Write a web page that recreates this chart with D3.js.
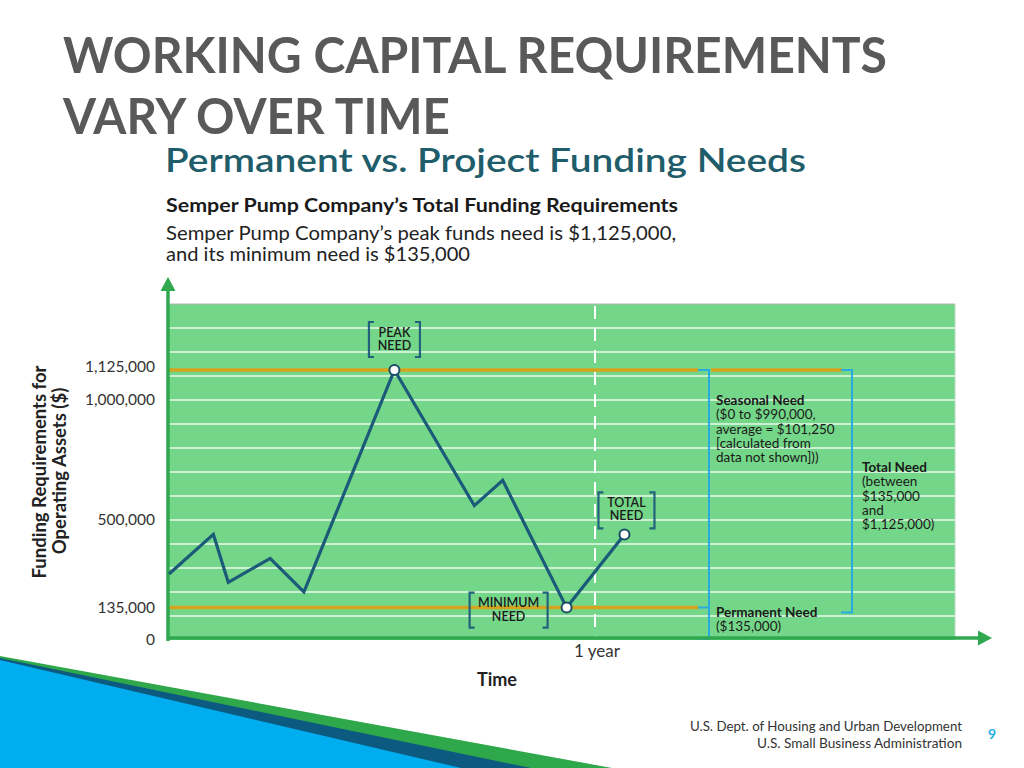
<!DOCTYPE html>
<html><head><meta charset="utf-8">
<script src="https://cdn.jsdelivr.net/npm/d3@7"></script>
<style>body{margin:0;background:#fff;} svg{display:block;}</style>
</head><body>
<svg id="c" width="1024" height="768"></svg>
<script>
// ---------- data ----------
const months = [0, 1.25, 1.67, 2.85, 3.8, 6.35, 8.6, 9.4, 11.2, 12.83];
const needs  = [275000, 440000, 240000, 340000, 200000, 1125000, 560000, 665000, 135000, 440000];
const yTickValues = [0, 135000, 500000, 1000000, 1125000];
const gridValues = [100000, 200000, 300000, 400000, 500000, 600000, 700000, 800000, 900000, 1000000, 1100000, 1200000, 1300000];
const peakNeed = 1125000;
const minNeed = 135000;
const yearMonth = 12;
const xTickLabel = "1 year";
const seasonalTitle = "Seasonal Need";
const seasonalLines = ["($0 to $990,000,", "average = $101,250", "[calculated from", "data not shown]))"];
const totalTitle = "Total Need";
const totalLines = ["(between", "$135,000", "and", "$1,125,000)"];
const permanentTitle = "Permanent Need";
const permanentLines = ["($135,000)"];
const callouts = [
  {index: 5, lines: ["PEAK", "NEED"]},
  {index: 8, lines: ["MINIMUM", "NEED"]},
  {index: 9, lines: ["TOTAL", "NEED"]}
];

// ---------- layout ----------
const svg = d3.select("#c");
const F = "Lato, 'Open Sans', sans-serif";
const plotL = 169, plotR = 955;
const x = d3.scaleLinear().domain([0, 12]).range([169, 595]);
const y = d3.scaleLinear().domain([0, 1400000]).range([640, 304]);
const axisGreen = "#2fa84f";
const orange = "#d6a41c";
const bracketBlue = "#29abe2";
const calloutColor = "#22627d";
const lineColor = "#1b5a78";

// bottom-left decoration
svg.append("polygon").attr("points", "0,656 612,768 0,768").attr("fill", "#2ea84a");
svg.append("polygon").attr("points", "0,658 531,768 0,768").attr("fill", "#0d5a80");
svg.append("polygon").attr("points", "0,660 461,768 0,768").attr("fill", "#00aeef");

// ---------- headers ----------
function fitText(sel, w) { sel.attr("textLength", w).attr("lengthAdjust", "spacingAndGlyphs"); return sel; }
fitText(svg.append("text").attr("x", 63).attr("y", 73).attr("font-family", F).attr("font-size", 49)
  .attr("font-weight", 700).attr("fill", "#595959").text("WORKING CAPITAL REQUIREMENTS"), 824);
fitText(svg.append("text").attr("x", 63).attr("y", 134).attr("font-family", F).attr("font-size", 49)
  .attr("font-weight", 700).attr("fill", "#595959").text("VARY OVER TIME"), 387);
fitText(svg.append("text").attr("x", 165).attr("y", 172).attr("font-family", F).attr("font-size", 33)
  .attr("font-weight", 600).attr("fill", "#1f5d6b").text("Permanent vs. Project Funding Needs"), 641);
fitText(svg.append("text").attr("x", 166).attr("y", 212).attr("font-family", F).attr("font-size", 19)
  .attr("font-weight", 700).attr("fill", "#1a1a1a").text("Semper Pump Company\u2019s Total Funding Requirements"), 512);
fitText(svg.append("text").attr("x", 166).attr("y", 240).attr("font-family", F).attr("font-size", 19)
  .attr("fill", "#222").text("Semper Pump Company\u2019s peak funds need is $1,125,000,"), 510);
fitText(svg.append("text").attr("x", 166).attr("y", 261).attr("font-family", F).attr("font-size", 19)
  .attr("fill", "#222").text("and its minimum need is $135,000"), 304);

// ---------- plot background ----------
svg.append("rect").attr("x", plotL).attr("y", y(1400000)).attr("width", plotR - plotL)
  .attr("height", y(0) - y(1400000)).attr("fill", "#74d688");
svg.append("line").attr("x1", plotL).attr("x2", plotR).attr("y1", y(1400000)).attr("y2", y(1400000))
  .attr("stroke", "#b5b5b5").attr("stroke-width", 1.2);
svg.append("line").attr("x1", plotR).attr("x2", plotR).attr("y1", y(1400000)).attr("y2", y(0))
  .attr("stroke", "#b5d8bd").attr("stroke-width", 1);

svg.append("g").selectAll("line").data(gridValues).join("line")
  .attr("x1", plotL).attr("x2", plotR).attr("y1", d => y(d)).attr("y2", d => y(d))
  .attr("stroke", "#fff").attr("stroke-opacity", 0.85).attr("stroke-width", 1.5);

// one-year dashed line
svg.append("line").attr("x1", x(yearMonth)).attr("x2", x(yearMonth))
  .attr("y1", y(1400000) + 2).attr("y2", y(0) - 2)
  .attr("stroke", "#fff").attr("stroke-width", 2).attr("stroke-dasharray", "13,9");

// orange level lines
svg.append("line").attr("x1", plotL).attr("x2", 698).attr("y1", y(peakNeed)).attr("y2", y(peakNeed))
  .attr("stroke", orange).attr("stroke-width", 3.5);
svg.append("line").attr("x1", 711).attr("x2", 842).attr("y1", y(peakNeed)).attr("y2", y(peakNeed))
  .attr("stroke", orange).attr("stroke-width", 3.5);
svg.append("line").attr("x1", plotL).attr("x2", 698).attr("y1", y(minNeed)).attr("y2", y(minNeed))
  .attr("stroke", orange).attr("stroke-width", 3.5);

// blue brackets
svg.append("path").attr("fill", "none").attr("stroke", bracketBlue).attr("stroke-width", 2)
  .attr("d", `M698,${y(peakNeed)} H709 V${y(0) - 1} H698 M698,${y(minNeed)} H709`);
svg.append("path").attr("fill", "none").attr("stroke", bracketBlue).attr("stroke-width", 2)
  .attr("d", `M841,${y(peakNeed)} H852 V${y(minNeed) + 5} H841`);

// ---------- axes ----------
svg.append("line").attr("x1", 168).attr("x2", 168).attr("y1", y(0) + 1).attr("y2", 289)
  .attr("stroke", axisGreen).attr("stroke-width", 3.5);
svg.append("polygon").attr("points", "160.5,291 175.5,291 168,277").attr("fill", axisGreen);
svg.append("line").attr("x1", 167).attr("x2", 980).attr("y1", y(0) - 2).attr("y2", y(0) - 2)
  .attr("stroke", axisGreen).attr("stroke-width", 3.5);
svg.append("polygon").attr("points", `978,${y(0) - 9.5} 978,${y(0) + 5.5} 992,${y(0) - 2}`).attr("fill", axisGreen);

svg.append("g").selectAll("text").data(yTickValues).join("text")
  .attr("x", 155).attr("y", d => y(d) - (d === peakNeed ? 3 : 0)).attr("dy", "0.35em").attr("text-anchor", "end")
  .attr("font-family", F).attr("font-size", 15.5).attr("fill", "#333")
  .text(d => d3.format(",")(d));

svg.append("text").attr("x", x(yearMonth) + 2).attr("y", 657).attr("text-anchor", "middle")
  .attr("font-family", F).attr("font-size", 17).attr("fill", "#333").text(xTickLabel);
svg.append("text").attr("x", 497).attr("y", 686).attr("text-anchor", "middle")
  .attr("font-family", F).attr("font-size", 18).attr("font-weight", 700).attr("fill", "#222").text("Time");

svg.append("text").attr("transform", "translate(46,472) rotate(-90)").attr("text-anchor", "middle")
  .attr("font-family", F).attr("font-size", 18.5).attr("font-weight", 700).attr("fill", "#222")
  .text("Funding Requirements for");
svg.append("text").attr("transform", "translate(66,471) rotate(-90)").attr("text-anchor", "middle")
  .attr("font-family", F).attr("font-size", 18.5).attr("font-weight", 700).attr("fill", "#222")
  .text("Operating Assets ($)");

// ---------- data line ----------
const pts = months.map((m, i) => [m, needs[i]]);
svg.append("path").datum(pts)
  .attr("d", d3.line().x(d => x(d[0])).y(d => y(d[1])))
  .attr("fill", "none").attr("stroke", lineColor).attr("stroke-width", 3.2).attr("stroke-linejoin", "miter");

// ---------- callouts ----------
const calloutBox = {
  5: {dx: 0, w: 51, top: -48, h: 35},
  8: {dx: -58, w: 78, top: -15, h: 35},
  9: {dx: 2, w: 56, top: -42, h: 36}
};
callouts.forEach(c => {
  const px = x(months[c.index]), py = y(needs[c.index]);
  const b = calloutBox[c.index];
  const cx = px + b.dx, l = cx - b.w / 2, r = cx + b.w / 2, t = py + b.top, bt = t + b.h;
  svg.append("path").attr("fill", "none").attr("stroke", calloutColor).attr("stroke-width", 2.2)
    .attr("d", `M${l + 5},${t} H${l} V${bt} H${l + 5} M${r - 5},${t} H${r} V${bt} H${r - 5}`);
  c.lines.forEach((s, k) => {
    svg.append("text").attr("x", cx).attr("y", t + 14.5 + k * 13.5).attr("text-anchor", "middle")
      .attr("font-family", F).attr("font-size", 12.5).attr("font-weight", 600).attr("fill", "#1a1a1a").text(s);
  });
});
svg.append("g").selectAll("circle").data(callouts).join("circle")
  .attr("cx", c => x(months[c.index])).attr("cy", c => y(needs[c.index])).attr("r", 5)
  .attr("fill", "#fff").attr("stroke", "#1b4f66").attr("stroke-width", 2);

// ---------- right annotations ----------
function block(xp, yp, title, lines) {
  svg.append("text").attr("x", xp).attr("y", yp).attr("font-family", F).attr("font-size", 13.5)
    .attr("font-weight", 700).attr("fill", "#1a1a1a").text(title);
  lines.forEach((s, k) => svg.append("text").attr("x", xp).attr("y", yp + 14.3 * (k + 1))
    .attr("font-family", F).attr("font-size", 13.5).attr("fill", "#1a1a1a").text(s));
}
block(716, 405, seasonalTitle, seasonalLines);
block(862, 472, totalTitle, totalLines);
block(716, 617, permanentTitle, permanentLines);

// ---------- footer ----------
fitText(svg.append("text").attr("x", 962).attr("y", 731).attr("text-anchor", "end").attr("font-family", F)
  .attr("font-size", 13.5).attr("fill", "#333").text("U.S. Dept. of Housing and Urban Development"), 272);
fitText(svg.append("text").attr("x", 962).attr("y", 748).attr("text-anchor", "end").attr("font-family", F)
  .attr("font-size", 13.5).attr("fill", "#333").text("U.S. Small Business Administration"), 205);
svg.append("text").attr("x", 992).attr("y", 739).attr("text-anchor", "middle").attr("font-family", F)
  .attr("font-size", 14).attr("font-weight", 700).attr("fill", "#29abe2").text("9");
</script>
</body></html>
